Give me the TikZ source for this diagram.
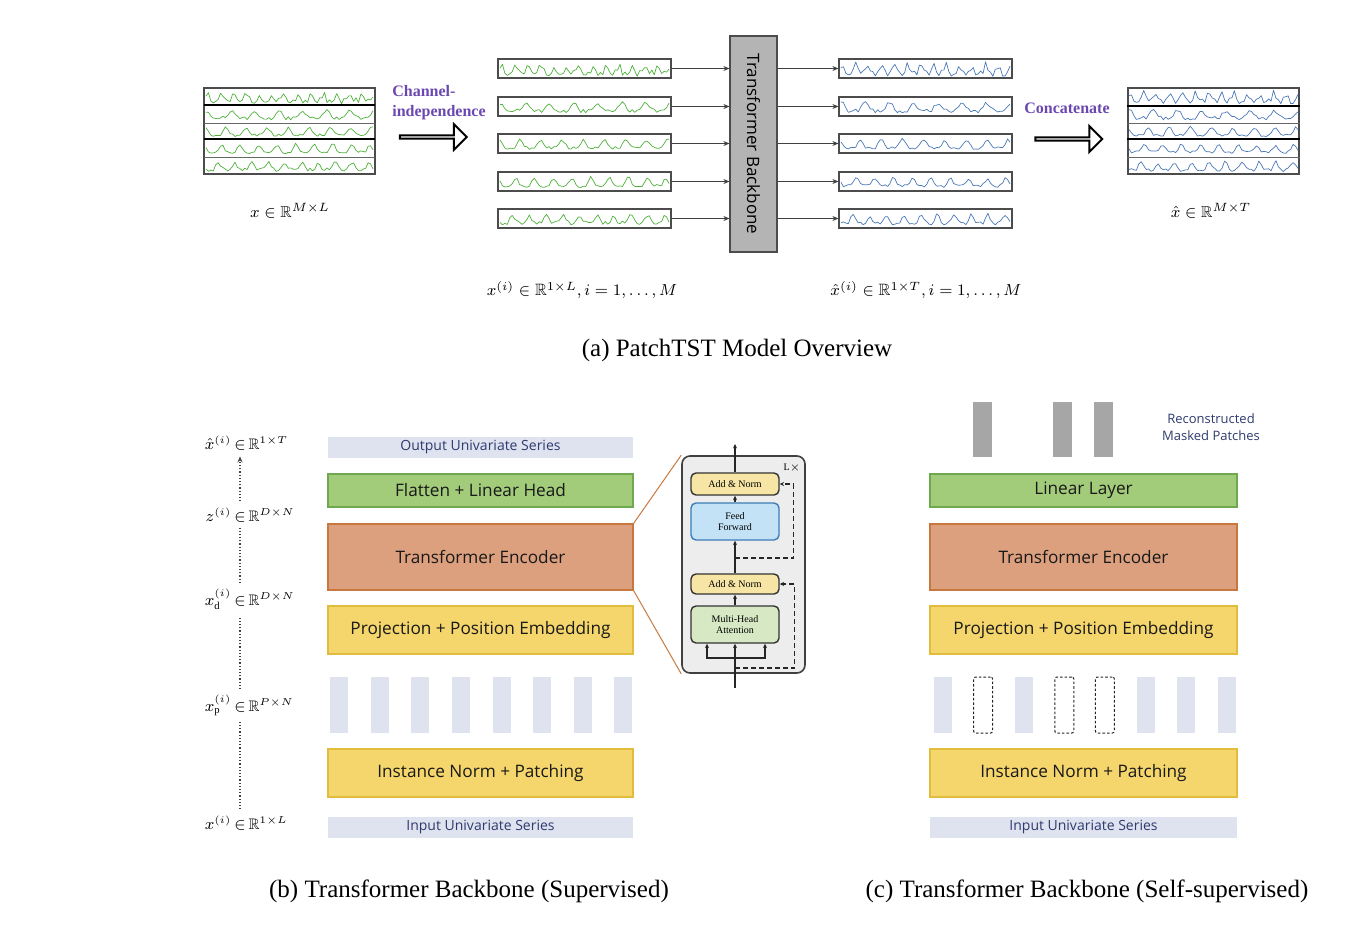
\documentclass[tikz,border=0pt]{standalone}
\usepackage{fontspec}
\usepackage{amsmath,amssymb}
\setmainfont{Liberation Serif}
\newfontfamily\sansbox{Open Sans}
\usetikzlibrary{arrows.meta,shapes.arrows}
\definecolor{lav}{HTML}{DFE3EF}
\definecolor{navy}{HTML}{2E3A6E}
\definecolor{grnF}{HTML}{A2CB7A}
\definecolor{grnD}{HTML}{6FA84E}
\definecolor{orgF}{HTML}{DCA07E}
\definecolor{orgD}{HTML}{C8783F}
\definecolor{ylwF}{HTML}{F5D66C}
\definecolor{ylwD}{HTML}{E2BC3C}
\definecolor{purp}{HTML}{6A48B0}
\definecolor{sgreen}{HTML}{4FB03A}
\definecolor{sblue}{HTML}{4A78B5}
\definecolor{bbgray}{HTML}{B4B4B4}
\definecolor{detgray}{HTML}{EDEDED}
\definecolor{anF}{HTML}{F7E5A5}
\definecolor{ffF}{HTML}{C3E2F6}
\definecolor{ffD}{HTML}{3C7DB8}
\definecolor{mhF}{HTML}{D6E9C4}
\definecolor{rpgray}{HTML}{A6A6A6}
\newcommand\wave[8]{%
  \pgfmathsetseed{#1}%
  \draw[#6, line width=0.35pt, line join=round] plot[domain=#2:#3, samples=70]
    (\x, {#4 + #5*(0.6 - 1.3*(0.85*(0.51+0.49*sin(360*#7*((\x-#2)/(#3-#2))+37*#1))^3 + #8*rand))});%
}
\tikzset{
 sbox/.style={draw=black!70, line width=0.6pt, minimum width=86.5pt, minimum height=9.5pt, inner sep=0pt},
 blk/.style={draw=black!70, line width=0.6pt, minimum width=85.5pt, minimum height=43pt, inner sep=0pt},
 arr/.style={draw=black!75, line width=0.5pt, -{Stealth[length=3pt,width=2.5pt]}},
 hollow/.style={single arrow, draw=black, line width=1pt, fill=white, minimum height=33.5pt, minimum width=13pt, single arrow head extend=3.5pt, inner sep=0pt},
 lbl/.style={font=\fontsize{7.9}{9}\selectfont, inner sep=1pt},
 lbl2/.style={font=\fontsize{8.2}{9}\selectfont, inner sep=1pt},
 purpt/.style={text=purp, font=\bfseries\fontsize{8}{10}\selectfont, align=left, inner sep=0pt},
 layerbox/.style={minimum width=152.5pt, inner sep=0pt, font=\sansbox\fontsize{8.6}{9}\selectfont, text=black!90},
 lavbox/.style={layerbox, fill=lav, text=navy, font=\sansbox\fontsize{7}{8}\selectfont, minimum height=10.5pt},
 grnbox/.style={layerbox, fill=grnF, draw=grnD, line width=0.6pt, minimum height=16.5pt},
 orgbox/.style={layerbox, fill=orgF, draw=orgD, line width=0.6pt, minimum height=33pt},
 ylwbox/.style={layerbox, fill=ylwF, draw=ylwD, line width=0.6pt, minimum height=24pt},
 lpatch/.style={fill=lav, minimum width=9pt, minimum height=28pt, inner sep=0pt},
 mpatch/.style={draw=black!85, dash pattern=on 1.3pt off 1pt, line width=0.5pt, rounded corners=1pt, minimum width=9.5pt, minimum height=28pt, inner sep=0pt},
 rpatch/.style={fill=rpgray, minimum width=9.5pt, minimum height=27.5pt, inner sep=0pt},
 innerbox/.style={draw=black!80, line width=0.7pt, rounded corners=2.5pt, minimum width=44pt, inner sep=0pt, align=center, font=\fontsize{5}{5.5}\selectfont},
 captxt/.style={font=\fontsize{12.5}{14}\selectfont, inner sep=0pt},
 sidelbl/.style={font=\fontsize{7.6}{9}\selectfont, inner sep=1pt, anchor=base},
 dotline/.style={densely dotted, line width=0.6pt, black!75, shorten <=2pt, shorten >=2pt},
 tarr/.style={line width=0.7pt, black!85, -{Stealth[length=2.2pt,width=2pt]}},
 resid/.style={line width=0.7pt, black!85, dash pattern=on 2.5pt off 1.5pt, -{Stealth[length=2.2pt,width=2pt]}},
}
\begin{document}
\begin{tikzpicture}[x=0.5pt,y=-0.5pt]
\useasboundingbox (0,0) rectangle (1356,928);

% ---------------- (a) overview ----------------
\node[blk] (inblk) at (289.5,131) {};
\draw[line width=1.2pt] (204,105) -- (375,105);
\draw[line width=1.2pt] (204,139) -- (375,139);
\draw[line width=0.5pt, black!60] (204,123) -- (375,123);
\draw[line width=0.5pt, black!60] (204,157) -- (375,157);

\node[blk] (outblk) at (1213.5,131) {};
\draw[line width=1.2pt] (1127,106) -- (1300,106);
\draw[line width=1.2pt] (1127,139) -- (1300,139);
\draw[line width=0.5pt, black!60] (1127,123) -- (1300,123);
\draw[line width=0.5pt, black!60] (1127,157) -- (1300,157);

\node[draw=black!70, fill=bbgray, line width=0.6pt, minimum width=23.5pt, minimum height=108pt, inner sep=0pt,
      font=\sansbox\fontsize{8.5}{9}\selectfont] (bb) at (753.5,144) {\rotatebox{-90}{Transformer Backbone}};

\foreach \k/\yc/\ry/\cyc/\nz in {1/68.5/96.5/13/0.35, 2/106.5/114/7/0.2, 3/143.5/131/8/0.15, 4/181.5/148/9/0.15, 5/218.5/165.5/10/0.2}{
  \node[sbox] (in\k) at (584.5,\yc) {};
  \node[sbox] (out\k) at (925.5,\yc) {};
  \wave{\k}{206}{373}{\ry}{7}{sgreen}{\cyc}{\nz}
  \wave{\k}{500}{669}{\yc}{7.5}{sgreen}{\cyc}{\nz}
  \pgfmathtruncatemacro\sd{\k+10}
  \wave{\sd}{1129}{1298}{\ry}{7}{sblue}{\cyc}{\nz}
  \wave{\sd}{841}{1010}{\yc}{7.5}{sblue}{\cyc}{\nz}
  \draw[arr] (in\k.east) -- (in\k.east -| bb.west);
  \draw[arr] (bb.east |- out\k.west) -- (out\k.west);
}

\node[purpt] (citext) at (439,103) {Channel-\\independence};
\node[hollow] (ciarr) at (432.5,137) {};
\node[purpt] (cctext) at (1067,108) {Concatenate};
\node[hollow] (ccarr) at (1068,139) {};

\node[lbl] (lx0) at (290,211) {$x\in\mathbb{R}^{M\times L}$};
\node[lbl] (lxh0) at (1211,211) {$\hat{x}\in\mathbb{R}^{M\times T}$};
\node[lbl2] (lxi) at (582,290) {$x^{(i)}\in\mathbb{R}^{1\times L}, i=1,\ldots,M$};
\node[lbl2] (lxhi) at (926,290) {$\hat{x}^{(i)}\in\mathbb{R}^{1\times T}, i=1,\ldots,M$};
\node[captxt] (capa) at (737,350) {(a) PatchTST Model Overview};

% ---------------- (b) supervised ----------------
\node[lavbox] (bout) at (480.5,447) {Output Univariate Series};
\node[grnbox] (bhead) at (480.5,490.5) {Flatten + Linear Head};
\node[orgbox] (benc) at (480.5,557) {Transformer Encoder};
\node[ylwbox] (bproj) at (480.5,630) {Projection + Position Embedding};
\foreach \i in {0,...,7}{
  \node[lpatch] (bp\i) at ({339+40.64*\i},705) {};
}
\node[ylwbox] (bnorm) at (480.5,773) {Instance Norm + Patching};
\node[lavbox] (bin) at (480.5,827.5) {Input Univariate Series};

% side labels
\node[sidelbl] (lx) at (240,829) {\llap{$x^{(i)}\,$}$\in$\rlap{$\,\mathbb{R}^{1\times L}$}};
\node[sidelbl] (lxp) at (240,711) {\llap{$x_{\mathrm{p}}^{(i)}\,$}$\in$\rlap{$\,\mathbb{R}^{P\times N}$}};
\node[sidelbl] (lxd) at (240,605) {\llap{$x_{\mathrm{d}}^{(i)}\,$}$\in$\rlap{$\,\mathbb{R}^{D\times N}$}};
\node[sidelbl] (lz) at (240,521) {\llap{$z^{(i)}\,$}$\in$\rlap{$\,\mathbb{R}^{D\times N}$}};
\node[sidelbl] (lxh) at (240,449) {\llap{$\hat{x}^{(i)}\,$}$\in$\rlap{$\,\mathbb{R}^{1\times T}$}};
\draw[dotline] (lx) -- (lxp);
\draw[dotline] (lxp) -- (lxd);
\draw[dotline] (lxd) -- (lz);
\draw[dotline, -{Stealth[length=3pt,width=2.5pt]}] (lz) -- (lxh);

% encoder detail
\node[draw=black!75, fill=detgray, line width=0.8pt, rounded corners=4pt, minimum width=61.5pt, minimum height=108.5pt, inner sep=0pt] (tdet) at (743.5,564.5) {};
\draw[orgD, line width=0.5pt] (benc.north east) -- (tdet.north west);
\draw[orgD, line width=0.5pt] (benc.south east) -- (tdet.south west);
\node[innerbox, fill=anF, minimum height=11pt] (an2) at (735,484) {Add \& Norm};
\node[innerbox, fill=ffF, draw=ffD, minimum height=18.5pt] (ff) at (735,521.5) {Feed\\Forward};
\node[innerbox, fill=anF, minimum height=10pt] (an1) at (735,584) {Add \& Norm};
\node[innerbox, fill=mhF, minimum height=18.5pt] (mha) at (735,624.5) {Multi-Head\\Attention};
\node[font=\fontsize{5}{5.5}\selectfont, inner sep=0pt] (nx) at (792,468) {L$\times$};
\coordinate (tb) at (735,688);
\coordinate (tt) at (735,444);
\coordinate (br) at (735,658);
\coordinate (r1) at (735,668);
\coordinate (r2) at (735,558);
\draw[tarr] (tb) -- (mha.south);
\draw[tarr] (br) -| ([xshift=-14pt]mha.south);
\draw[tarr] (br) -| ([xshift=15pt]mha.south);
\draw[tarr] (mha) -- (an1);
\draw[tarr] (an1) -- (ff);
\draw[tarr] (ff) -- (an2);
\draw[tarr] (an2) -- (tt);
\draw[resid] (r1) -| ([xshift=7.5pt]an1.east) -- (an1.east);
\draw[resid] (r2) -| ([xshift=7pt]an2.east) -- (an2.east);

\node[captxt] (capb) at (469,891) {(b) Transformer Backbone (Supervised)};

% ---------------- (c) self-supervised ----------------
\node[rpatch] (rp1) at (982.5,429.5) {};
\node[rpatch] (rp2) at (1062.5,429.5) {};
\node[rpatch] (rp3) at (1103.5,429.5) {};
\node[align=center, text=navy, font=\sansbox\fontsize{6.5}{8.5}\selectfont, inner sep=0pt] (rmp) at (1211,427) {Reconstructed\\Masked Patches};
\node[grnbox, minimum width=153.5pt] (clin) at (1083.5,490.5) {Linear Layer};
\node[orgbox, minimum width=153.5pt] (cenc) at (1083.5,557) {Transformer Encoder};
\node[ylwbox, minimum width=153.5pt] (cproj) at (1083.5,630) {Projection + Position Embedding};
\foreach \i in {0,2,5,6,7}{
  \node[lpatch] (cp\i) at ({942.5+40.6*\i},705) {};
}
\foreach \i in {1,3,4}{
  \node[mpatch] (cp\i) at ({942.5+40.6*\i},705) {};
}
\node[ylwbox, minimum width=153.5pt] (cnorm) at (1083.5,773) {Instance Norm + Patching};
\node[lavbox, minimum width=153.5pt] (cin) at (1083.5,827.5) {Input Univariate Series};

\node[captxt] (capc) at (1087,891) {(c) Transformer Backbone (Self-supervised)};
\end{tikzpicture}
\end{document}
